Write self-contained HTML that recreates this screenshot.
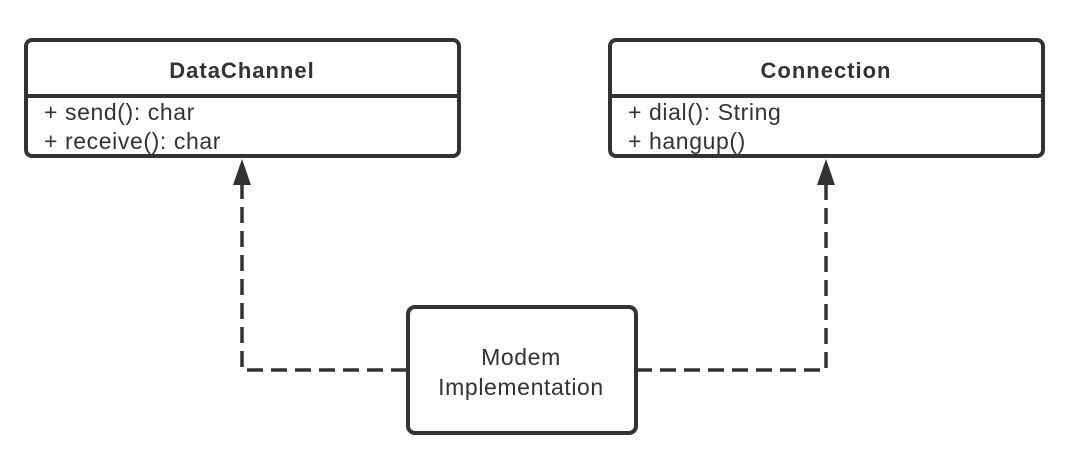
<!DOCTYPE html>
<html><head><meta charset="utf-8"><style>
html,body{margin:0;padding:0;background:#fff;width:1080px;height:465px;overflow:hidden}
text{font-family:"Liberation Sans",sans-serif;fill:#333}
.t{font-size:22px;font-weight:bold;letter-spacing:1px}
.m{font-size:23px;letter-spacing:0.6px}
</style></head><body>
<svg width="1080" height="465" viewBox="0 0 1080 465" xmlns="http://www.w3.org/2000/svg">
<g fill="none" stroke="#333" stroke-width="4">
<rect x="26" y="40" width="433" height="116" rx="6"/>
<line x1="26" y1="96" x2="459" y2="96"/>
<rect x="610" y="40" width="433" height="116" rx="6"/>
<line x1="610" y1="96" x2="1043" y2="96"/>
<rect x="408" y="307" width="228" height="126" rx="7"/>
<path d="M407 370 H242 V184" stroke-dasharray="16 8" stroke-width="3.5"/>
<path d="M636 370 H826 V184" stroke-dasharray="16 8" stroke-width="3.5"/>
</g>
<polygon points="242,159 233,185 251,185" fill="#333"/>
<polygon points="826,159 817,185 835,185" fill="#333"/>
<text x="242" y="78" text-anchor="middle" class="t">DataChannel</text>
<text x="826" y="78" text-anchor="middle" class="t">Connection</text>
<text x="44" y="120" class="m">+ send(): char</text>
<text x="44" y="149" class="m">+ receive(): char</text>
<text x="628" y="120" class="m">+ dial(): String</text>
<text x="628" y="149" class="m">+ hangup()</text>
<text x="521" y="365" text-anchor="middle" class="m">Modem</text>
<text x="521" y="395" text-anchor="middle" class="m">Implementation</text>
</svg>
</body></html>
